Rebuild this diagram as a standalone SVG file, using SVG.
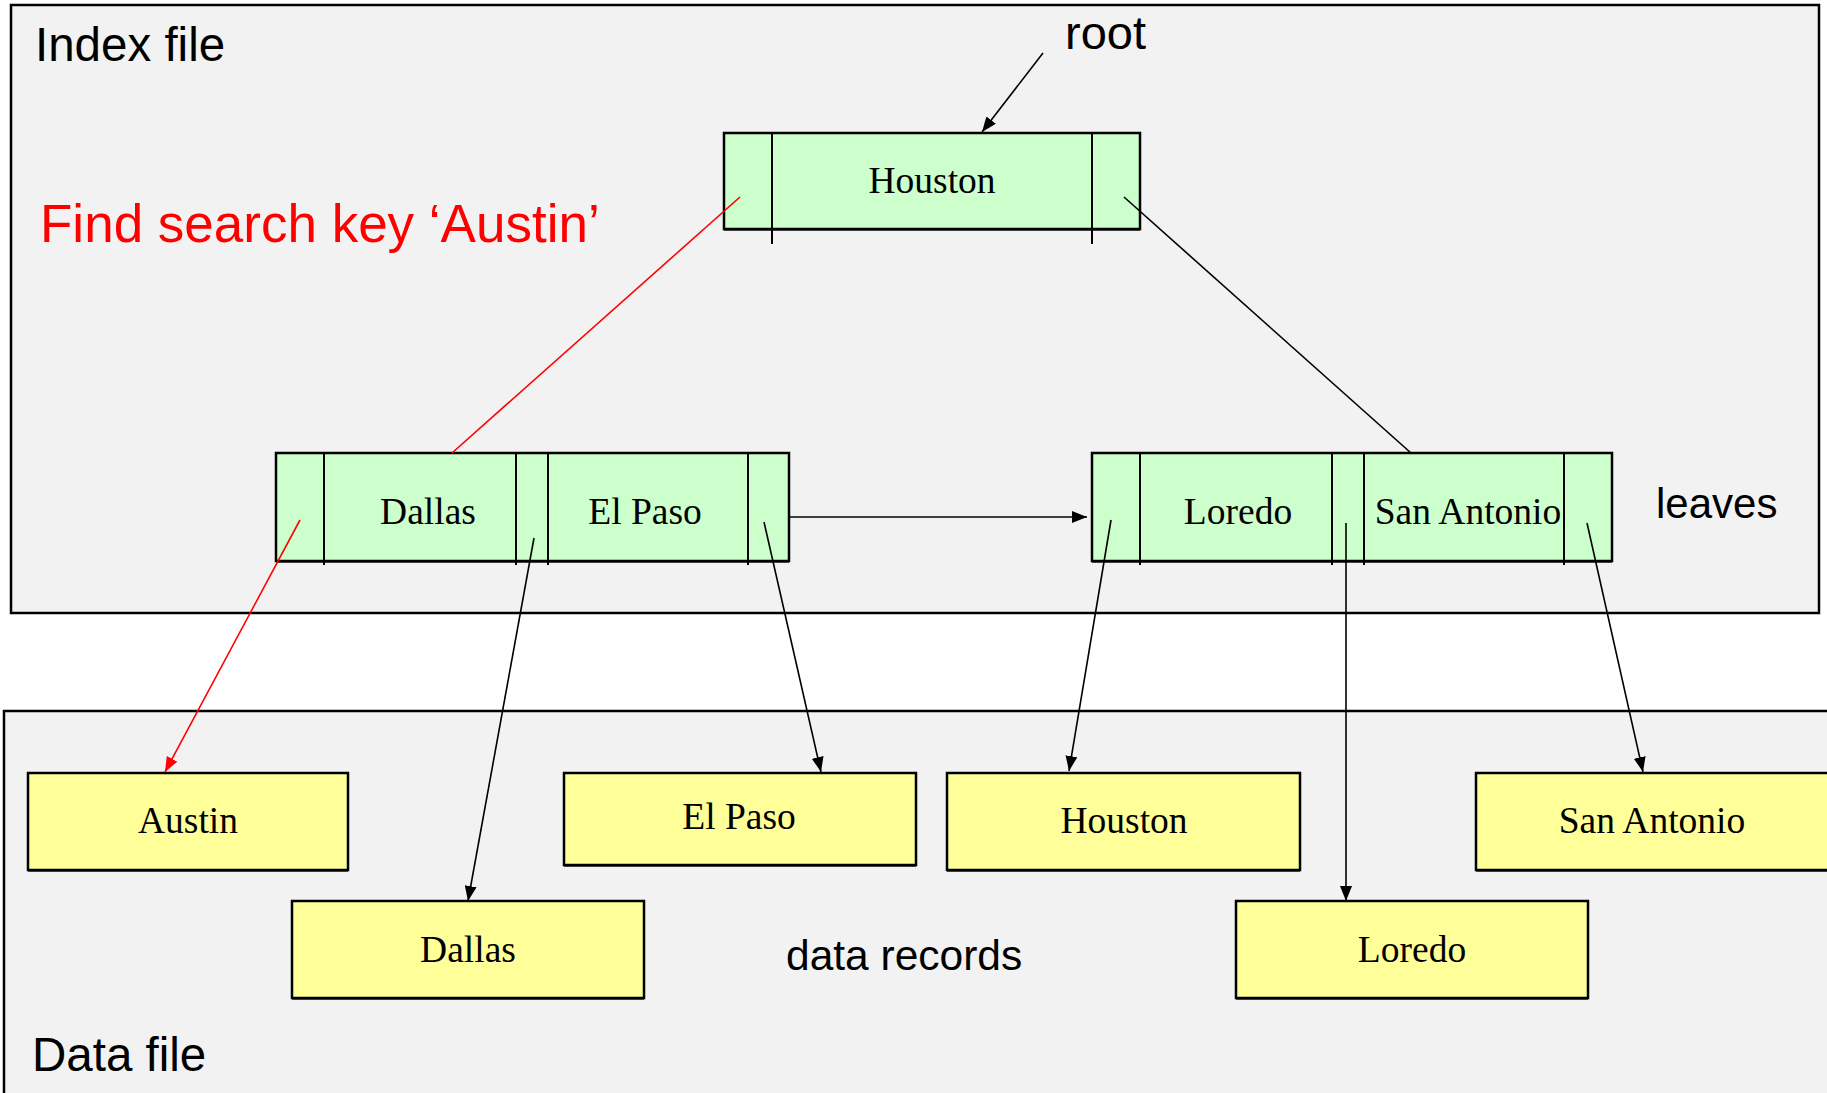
<svg xmlns="http://www.w3.org/2000/svg" width="1827" height="1093" viewBox="0 0 1827 1093">
  <style>
    .panel { fill: #f2f2f2; stroke: #000; stroke-width: 2.5; }
    .inode { fill: #ccffcc; stroke: #000; stroke-width: 2.5; }
    .rec { fill: #ffff99; stroke: #000; stroke-width: 2.5; }
    .shadow { fill: none; stroke: #555; stroke-width: 2; }
    .div { stroke: #000; stroke-width: 2; }
    .key { font-family: "Liberation Serif", "Times New Roman", serif; font-size: 37.5px; fill: #000; text-anchor: middle; }
    .lbl { font-family: "Liberation Sans", Arial, sans-serif; fill: #000; }
    .link { fill: none; stroke: #000; stroke-width: 1.6; }
    .hot { fill: none; stroke: #ff0000; stroke-width: 1.6; }
  </style>
  <defs>
    <marker id="ah" markerUnits="userSpaceOnUse" markerWidth="16" markerHeight="12" refX="15" refY="6" orient="auto">
      <path d="M0,0 L15,6 L0,12 z" fill="#000"/>
    </marker>
    <marker id="ahRed" markerUnits="userSpaceOnUse" markerWidth="16" markerHeight="12" refX="15" refY="6" orient="auto">
      <path d="M0,0 L15,6 L0,12 z" fill="#ff0000"/>
    </marker>
  </defs>

  <rect width="1827" height="1093" fill="#fff"/>

  <!-- index file panel -->
  <g id="index-file">
    <rect class="panel" x="11" y="5" width="1808" height="608"/>
    <text class="lbl" x="35" y="61" font-size="47.5">Index file</text>
    <text class="lbl" x="1065" y="49" font-size="47">root</text>
    <text class="lbl" x="40" y="242" font-size="53" style="fill:#ff0000">Find search key ‘Austin’</text>
    <text class="lbl" x="1656" y="518" font-size="42">leaves</text>
  </g>

  <!-- data file panel -->
  <g id="data-file">
    <rect class="panel" x="4" y="711" width="1840" height="400"/>
    <text class="lbl" x="786" y="970" font-size="42.5">data records</text>
    <text class="lbl" x="32" y="1071" font-size="47.5">Data file</text>
  </g>

  <!-- root index node -->
  <g id="node-root">
    <line class="shadow" x1="724" y1="230" x2="1140" y2="230"/>
    <rect class="inode" x="724" y="133" width="416" height="96"/>
    <line class="div" x1="772" y1="133" x2="772" y2="244"/>
    <line class="div" x1="1092" y1="133" x2="1092" y2="244"/>
    <text class="key" x="932" y="193">Houston</text>
  </g>

  <!-- left leaf -->
  <g id="leaf-left">
    <line class="shadow" x1="276" y1="562" x2="789" y2="562"/>
    <rect class="inode" x="276" y="453" width="513" height="108"/>
    <line class="div" x1="324" y1="453" x2="324" y2="565"/>
    <line class="div" x1="516" y1="453" x2="516" y2="565"/>
    <line class="div" x1="548" y1="453" x2="548" y2="565"/>
    <line class="div" x1="748" y1="453" x2="748" y2="565"/>
    <text class="key" x="428" y="524">Dallas</text>
    <text class="key" x="645" y="524">El Paso</text>
  </g>

  <!-- right leaf -->
  <g id="leaf-right">
    <line class="shadow" x1="1092" y1="562" x2="1612" y2="562"/>
    <rect class="inode" x="1092" y="453" width="520" height="108"/>
    <line class="div" x1="1140" y1="453" x2="1140" y2="565"/>
    <line class="div" x1="1332" y1="453" x2="1332" y2="565"/>
    <line class="div" x1="1364" y1="453" x2="1364" y2="565"/>
    <line class="div" x1="1564" y1="453" x2="1564" y2="565"/>
    <text class="key" x="1238" y="524">Loredo</text>
    <text class="key" x="1468" y="524">San Antonio</text>
  </g>

  <!-- data records -->
  <g id="rec-austin">
    <line class="shadow" x1="28" y1="871" x2="348" y2="871"/>
    <rect class="rec" x="28" y="773" width="320" height="97"/>
    <text class="key" x="188" y="833">Austin</text>
  </g>
  <g id="rec-elpaso">
    <line class="shadow" x1="564" y1="866" x2="916" y2="866"/>
    <rect class="rec" x="564" y="773" width="352" height="92"/>
    <text class="key" x="739" y="829">El Paso</text>
  </g>
  <g id="rec-dallas">
    <line class="shadow" x1="292" y1="999" x2="644" y2="999"/>
    <rect class="rec" x="292" y="901" width="352" height="97"/>
    <text class="key" x="468" y="962">Dallas</text>
  </g>
  <g id="rec-houston">
    <line class="shadow" x1="947" y1="871" x2="1300" y2="871"/>
    <rect class="rec" x="947" y="773" width="353" height="97"/>
    <text class="key" x="1124" y="833">Houston</text>
  </g>
  <g id="rec-loredo">
    <line class="shadow" x1="1236" y1="999" x2="1588" y2="999"/>
    <rect class="rec" x="1236" y="901" width="352" height="97"/>
    <text class="key" x="1412" y="962">Loredo</text>
  </g>
  <g id="rec-sanantonio">
    <line class="shadow" x1="1476" y1="871" x2="1830" y2="871"/>
    <rect class="rec" x="1476" y="773" width="354" height="97"/>
    <text class="key" x="1652" y="833">San Antonio</text>
  </g>

  <!-- connectors -->
  <g id="connectors">
    <line class="link" x1="1043" y1="53" x2="982" y2="132" marker-end="url(#ah)"/>
    <line class="hot" x1="740" y1="197" x2="452" y2="453"/>
    <line class="link" x1="1124" y1="197" x2="1411" y2="453"/>
    <line class="link" x1="789" y1="517" x2="1087" y2="517" marker-end="url(#ah)"/>
    <line class="hot" x1="300" y1="520" x2="165" y2="772" marker-end="url(#ahRed)"/>
    <line class="link" x1="534" y1="538" x2="468" y2="901" marker-end="url(#ah)"/>
    <line class="link" x1="764" y1="522" x2="821" y2="772" marker-end="url(#ah)"/>
    <line class="link" x1="1111" y1="520" x2="1069" y2="771" marker-end="url(#ah)"/>
    <line class="link" x1="1346" y1="523" x2="1346" y2="901" marker-end="url(#ah)"/>
    <line class="link" x1="1587" y1="523" x2="1643" y2="772" marker-end="url(#ah)"/>
  </g>
</svg>
